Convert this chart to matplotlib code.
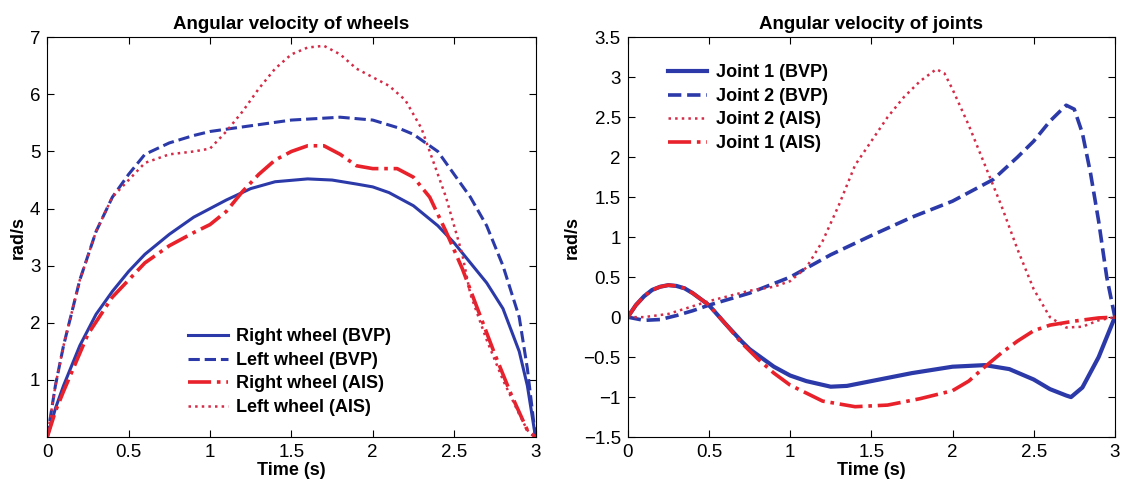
import matplotlib
matplotlib.use("Agg")
import matplotlib.pyplot as plt

plt.rcParams["font.family"] = ["Liberation Sans", "DejaVu Sans"]

# wheels
t_rw = [0, 0.05, 0.1, 0.2, 0.3, 0.4, 0.5, 0.6, 0.75, 0.9, 1.0, 1.1, 1.25, 1.4, 1.6, 1.75, 1.9, 2.0, 2.1, 2.25, 2.4, 2.5, 2.6, 2.7, 2.8, 2.9, 2.95, 3.0]
rw_bvp = [0, 0.5, 0.9, 1.6, 2.15, 2.55, 2.9, 3.2, 3.55, 3.85, 4.0, 4.15, 4.35, 4.47, 4.52, 4.5, 4.43, 4.38, 4.28, 4.05, 3.7, 3.4, 3.05, 2.7, 2.25, 1.5, 0.9, 0]

t_lw = [0, 0.05, 0.1, 0.2, 0.3, 0.4, 0.5, 0.6, 0.75, 0.9, 1.0, 1.25, 1.5, 1.8, 2.0, 2.15, 2.25, 2.4, 2.5, 2.6, 2.7, 2.8, 2.9, 2.95, 3.0]
lw_bvp = [0, 0.9, 1.6, 2.75, 3.6, 4.2, 4.6, 4.95, 5.15, 5.28, 5.35, 5.45, 5.55, 5.6, 5.55, 5.42, 5.3, 5.0, 4.6, 4.2, 3.7, 3.0, 2.1, 1.2, 0]

t_ra = [0, 0.05, 0.1, 0.25, 0.4, 0.5, 0.6, 0.75, 0.9, 1.0, 1.1, 1.2, 1.3, 1.4, 1.5, 1.6, 1.7, 1.8, 1.9, 2.0, 2.15, 2.25, 2.35, 2.45, 2.55, 2.65, 2.75, 2.85, 2.95, 3.0]
rw_ais = [0, 0.45, 0.8, 1.8, 2.45, 2.75, 3.05, 3.35, 3.58, 3.72, 3.95, 4.3, 4.6, 4.85, 5.0, 5.1, 5.1, 4.95, 4.75, 4.7, 4.7, 4.55, 4.2, 3.6, 2.95, 2.2, 1.45, 0.75, 0.12, 0]

t_la = [0, 0.05, 0.1, 0.2, 0.3, 0.4, 0.5, 0.6, 0.75, 0.9, 1.0, 1.1, 1.2, 1.3, 1.4, 1.5, 1.6, 1.7, 1.8, 1.9, 2.0, 2.1, 2.2, 2.3, 2.35, 2.45, 2.5, 2.55, 2.6, 2.7, 2.8, 2.9, 2.95, 3.0]
lw_ais = [0, 0.9, 1.6, 2.75, 3.6, 4.2, 4.5, 4.8, 4.95, 5.0, 5.05, 5.35, 5.7, 6.1, 6.45, 6.7, 6.82, 6.85, 6.7, 6.45, 6.3, 6.15, 5.9, 5.4, 5.0, 4.2, 3.7, 3.2, 2.5, 1.7, 1.0, 0.4, 0.12, 0]

# joints
t_j1 = [0, 0.05, 0.1, 0.15, 0.2, 0.25, 0.3, 0.35, 0.4, 0.5, 0.6, 0.7, 0.75, 0.9, 1.0, 1.1, 1.25, 1.35, 1.5, 1.75, 2.0, 2.2, 2.35, 2.5, 2.6, 2.7, 2.73, 2.8, 2.9, 3.0]
j1_bvp = [0, 0.15, 0.26, 0.34, 0.38, 0.4, 0.39, 0.36, 0.3, 0.15, -0.08, -0.3, -0.4, -0.62, -0.73, -0.8, -0.87, -0.86, -0.8, -0.7, -0.62, -0.6, -0.65, -0.78, -0.9, -0.98, -1.0, -0.88, -0.5, 0]

t_j1a = [0, 0.05, 0.1, 0.15, 0.2, 0.25, 0.3, 0.35, 0.4, 0.5, 0.6, 0.7, 0.8, 0.9, 1.0, 1.2, 1.4, 1.6, 1.8, 2.0, 2.1, 2.2, 2.3, 2.4, 2.5, 2.6, 2.75, 2.9, 3.0]
j1_ais = [0, 0.15, 0.26, 0.34, 0.38, 0.4, 0.39, 0.36, 0.3, 0.15, -0.08, -0.32, -0.52, -0.7, -0.85, -1.05, -1.12, -1.1, -1.02, -0.92, -0.8, -0.62, -0.45, -0.3, -0.17, -0.1, -0.05, -0.01, 0]

t_j2 = [0, 0.05, 0.1, 0.2, 0.3, 0.4, 0.5, 0.75, 1.0, 1.25, 1.5, 1.75, 2.0, 2.25, 2.4, 2.5, 2.6, 2.7, 2.75, 2.8, 2.85, 2.9, 2.95, 3.0]
j2_bvp = [0, -0.02, -0.04, -0.03, 0.02, 0.08, 0.15, 0.3, 0.5, 0.78, 1.02, 1.25, 1.45, 1.72, 2.0, 2.2, 2.45, 2.65, 2.6, 2.3, 1.8, 1.2, 0.5, 0]

t_j2a = [0, 0.1, 0.25, 0.5, 0.75, 0.9, 1.0, 1.1, 1.2, 1.3, 1.4, 1.5, 1.6, 1.7, 1.8, 1.9, 1.95, 2.0, 2.1, 2.2, 2.3, 2.4, 2.5, 2.6, 2.7, 2.8, 2.9, 3.0]
j2_ais = [0, 0.0, 0.04, 0.2, 0.33, 0.38, 0.45, 0.62, 0.95, 1.4, 1.9, 2.2, 2.5, 2.75, 2.95, 3.1, 3.05, 2.85, 2.4, 1.9, 1.4, 0.85, 0.35, 0.0, -0.13, -0.12, -0.04, 0]

blue = "#2b3aa8"
red = "#e8212b"
pink = "#d42c48"

fig = plt.figure(figsize=(11.25, 4.9), dpi=100)
ax1 = fig.add_axes([0.042, 0.108, 0.434, 0.816])
ax2 = fig.add_axes([0.558, 0.108, 0.433, 0.816])

ax1.plot(t_rw, rw_bvp, "-", color=blue, lw=2.2, label="Right wheel (BVP)")
ax1.plot(t_lw, lw_bvp, "--", color=blue, lw=2.2, label="Left wheel (BVP)")
ax1.plot(t_ra, rw_ais, "-.", color=red, lw=2.6, label="Right wheel (AIS)")
ax1.plot(t_la, lw_ais, ":", color=pink, lw=1.8, label="Left wheel (AIS)")
ax1.set_xlim(0, 3)
ax1.set_ylim(0, 7)
ax1.set_xticks([0, 0.5, 1, 1.5, 2, 2.5, 3])
ax1.set_xticklabels(["0", "0.5", "1", "1.5", "2", "2.5", "3"])
ax1.set_yticks([1, 2, 3, 4, 5, 6, 7])
ax1.set_title("Angular velocity of wheels", fontsize=13.5, fontweight="bold", pad=6)
ax1.set_ylabel("rad/s", fontsize=13, fontweight="bold", labelpad=2)
ax1.legend(loc="upper left", bbox_to_anchor=(0.289, 0.272), frameon=False,
           prop=dict(size=13, weight="bold"), handlelength=2.2, handletextpad=0.45,
           labelspacing=0.36, borderpad=0, borderaxespad=0)

ax2.plot(t_j1, j1_bvp, "-", color=blue, lw=3, label="Joint 1 (BVP)")
ax2.plot(t_j2, j2_bvp, "--", color=blue, lw=2.6, label="Joint 2 (BVP)")
ax2.plot(t_j2a, j2_ais, ":", color=pink, lw=1.8, label="Joint 2 (AIS)")
ax2.plot(t_j1a, j1_ais, "-.", color=red, lw=2.6, label="Joint 1 (AIS)")
ax2.set_xlim(0, 3)
ax2.set_ylim(-1.5, 3.5)
ax2.set_xticks([0, 0.5, 1, 1.5, 2, 2.5, 3])
ax2.set_xticklabels(["0", "0.5", "1", "1.5", "2", "2.5", "3"])
ax2.set_yticks([-1.5, -1, -0.5, 0, 0.5, 1, 1.5, 2, 2.5, 3, 3.5])
ax2.set_yticklabels(["\u22121.5", "\u22121", "\u22120.5", "0", "0.5", "1", "1.5", "2", "2.5", "3", "3.5"])
ax2.set_title("Angular velocity of joints", fontsize=13.5, fontweight="bold", pad=6)
ax2.set_ylabel("rad/s", fontsize=13, fontweight="bold", labelpad=2)
ax2.legend(loc="upper left", bbox_to_anchor=(0.082, 0.932), frameon=False,
           prop=dict(size=13, weight="bold"), handlelength=2.2, handletextpad=0.45,
           labelspacing=0.36, borderpad=0, borderaxespad=0)

for ax in (ax1, ax2):
    ax.set_xlabel("Time (s)", fontsize=13, fontweight="bold", labelpad=1)
    ax.tick_params(direction="in", top=True, right=True, labelsize=13.5, length=5, pad=5)
    for s in ax.spines.values():
        s.set_linewidth(0.8)

fig.savefig("out.png", dpi=100)
